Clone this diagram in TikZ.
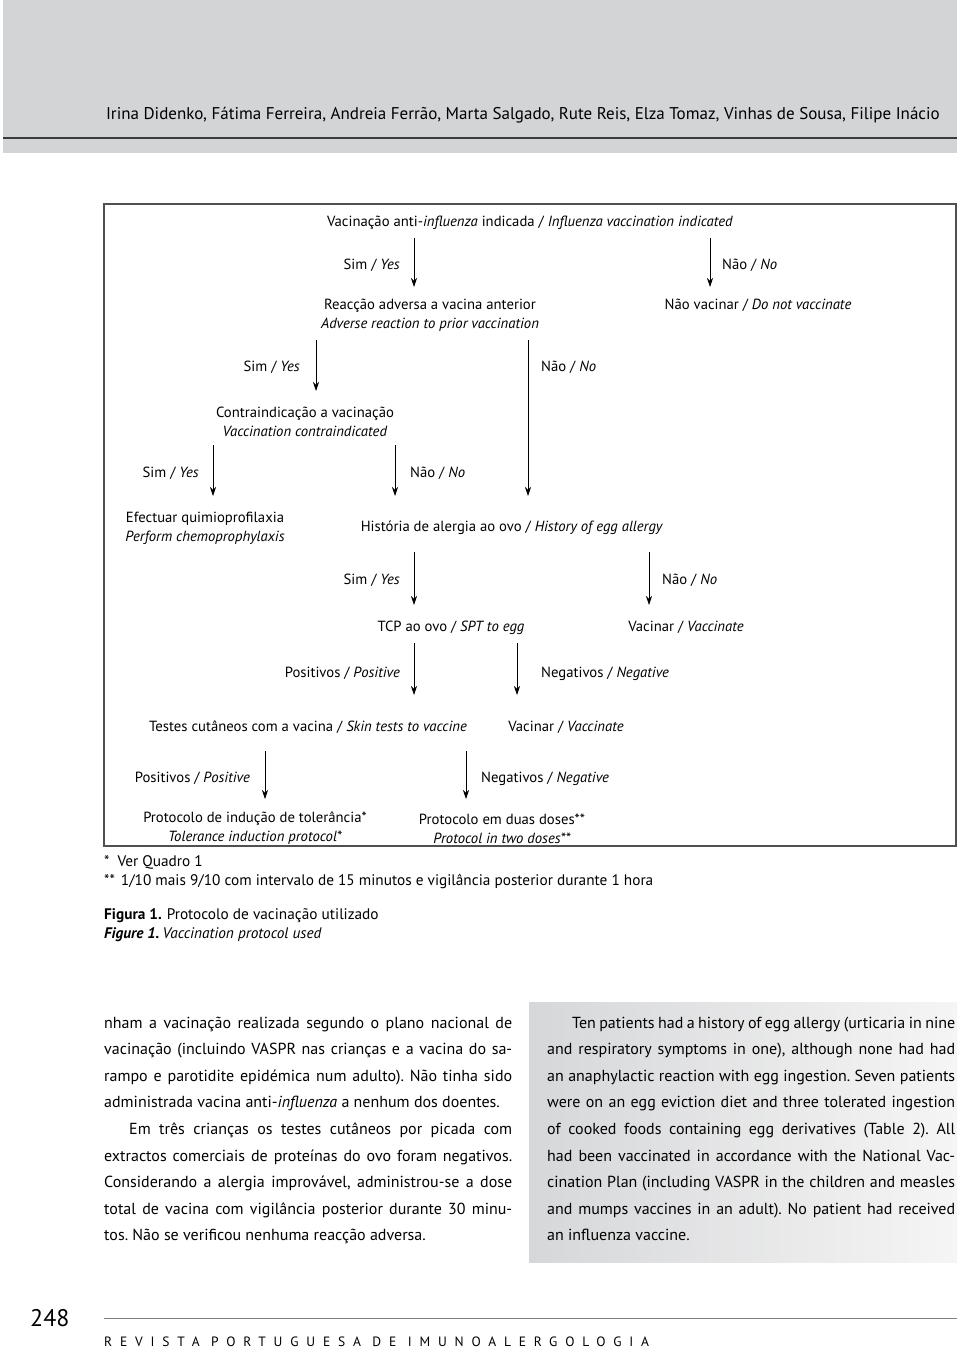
\documentclass[tikz,border=0pt]{standalone}
\usepackage{fontspec}
\setmainfont{PT Sans}
\usetikzlibrary{arrows.meta,positioning}
\frenchspacing

\definecolor{bandgray}{RGB}{211,212,214}
\definecolor{rulegray}{RGB}{60,60,60}
\definecolor{framegray}{RGB}{80,80,80}
\definecolor{shadeleft}{RGB}{214,215,217}
\definecolor{shaderight}{RGB}{245,245,245}

\newcommand{\jline}[1]{\hbox to 408pt{#1}}

\tikzset{
  flow/.style={font=\fontsize{14.7}{19}\selectfont, inner sep=0pt, align=center},
  lbl/.style={font=\fontsize{14.7}{16}\selectfont, inner sep=0pt},
  arr/.style={-{Stealth[length=9pt,width=6pt]}, line width=0.7pt},
  body/.style={font=\fontsize{16}{26.6}\selectfont, inner sep=0pt, align=left, anchor=north west},
  note/.style={font=\fontsize{15.3}{19}\selectfont, inner sep=0pt, anchor=base west},
}

\begin{document}
\begin{tikzpicture}[x=1pt,y=-1pt]
\useasboundingbox (0,0) rectangle (960,1349);

% Header band
\fill [bandgray] (3,0) rectangle (957,153);
\draw [rulegray, line width=1.5pt] (3,138) -- (957,138);
\node [anchor=base east, inner sep=0pt, font=\fontsize{17}{20}\selectfont] (authors) at (940,119)
  {Irina Didenko, Fátima Ferreira, Andreia Ferrão, Marta Salgado, Rute Reis, Elza Tomaz, Vinhas de Sousa, Filipe Inácio};

% Flowchart frame
\draw [framegray, line width=1.6pt] (104,204) rectangle (956,846);

% Boxes of text
\node [flow, anchor=base] (indic) at (530,226) {Vacinação anti-\textit{influenza} indicada / \textit{Influenza vaccination indicated}};
\node [flow] (react) at (430,315.5) {Reacção adversa a vacina anterior\\\textit{Adverse reaction to prior vaccination}};
\node [flow, anchor=base] (novac) at (758,309) {Não vacinar / \textit{Do not vaccinate}};
\node [flow] (contra) at (305,421.5) {Contraindicação a vacinação\\\textit{Vaccination contraindicated}};
\node [flow] (chemo) at (205,528.5) {Efectuar quimioprofilaxia\\\textit{Perform chemoprophylaxis}};
\node [flow, anchor=base] (hist) at (512,531) {História de alergia ao ovo / \textit{History of egg allergy}};
\node [flow, anchor=base] (tcp) at (451,631) {TCP ao ovo / \textit{SPT to egg}};
\node [flow, anchor=base] (vacA) at (686,631) {Vacinar / \textit{Vaccinate}};
\node [flow, anchor=base] (skin) at (308,731) {Testes cutâneos com a vacina / \textit{Skin tests to vaccine}};
\node [flow, anchor=base] (vacB) at (566,731) {Vacinar / \textit{Vaccinate}};
\node [flow] (toler) at (255,828.5) {Protocolo de indução de tolerância*\\\textit{Tolerance induction protocol*}};
\node [flow] (twodose) at (502,828.5) {Protocolo em duas doses**\\\textit{Protocol in two doses**}};

% Arrow ends
\coordinate (a1s) at (414,238); \coordinate (a1e) at (414,287);
\coordinate (a2s) at (710,238); \coordinate (a2e) at (710,287);
\coordinate (a3s) at (316,340); \coordinate (a3e) at (316,391);
\coordinate (a4s) at (528,340); \coordinate (a4e) at (528,496);
\coordinate (a5s) at (213,445); \coordinate (a5e) at (213,496);
\coordinate (a6s) at (395,445); \coordinate (a6e) at (395,496);
\coordinate (a7s) at (414,552); \coordinate (a7e) at (414,605);
\coordinate (a8s) at (649,552); \coordinate (a8e) at (649,605);
\coordinate (a9s) at (414,643); \coordinate (a9e) at (414,695);
\coordinate (a10s) at (517,643); \coordinate (a10e) at (517,695);
\coordinate (a11s) at (265,751); \coordinate (a11e) at (265,799);
\coordinate (a12s) at (466,751); \coordinate (a12e) at (466,799);

\draw [arr] (a1s) -- (a1e);
\draw [arr] (a2s) -- (a2e);
\draw [arr] (a3s) -- (a3e);
\draw [arr] (a4s) -- (a4e);
\draw [arr] (a5s) -- (a5e);
\draw [arr] (a6s) -- (a6e);
\draw [arr] (a7s) -- (a7e);
\draw [arr] (a8s) -- (a8e);
\draw [arr] (a9s) -- (a9e);
\draw [arr] (a10s) -- (a10e);
\draw [arr] (a11s) -- (a11e);
\draw [arr] (a12s) -- (a12e);

% Yes / No labels
\node [lbl, anchor=base east] (y1) at (400,269) {Sim / \textit{Yes}};
\node [lbl, anchor=base west] (n1) at (722,269) {Não / \textit{No}};
\node [lbl, anchor=base east] (y2) at (300,371) {Sim / \textit{Yes}};
\node [lbl, anchor=base west] (n2) at (541,371) {Não / \textit{No}};
\node [lbl, anchor=base east] (y3) at (199,477) {Sim / \textit{Yes}};
\node [lbl, anchor=base west] (n3) at (410,477) {Não / \textit{No}};
\node [lbl, anchor=base east] (y4) at (400,584) {Sim / \textit{Yes}};
\node [lbl, anchor=base west] (n4) at (662,584) {Não / \textit{No}};
\node [lbl, anchor=base east] (p5) at (400,677) {Positivos / \textit{Positive}};
\node [lbl, anchor=base west] (m5) at (541,677) {Negativos / \textit{Negative}};
\node [lbl, anchor=base east] (p6) at (250,782) {Positivos / \textit{Positive}};
\node [lbl, anchor=base west] (m6) at (481,782) {Negativos / \textit{Negative}};

% Footnotes and caption
\node [note] (fn1) at (104,866) {*\hspace{8pt}Ver Quadro 1};
\node [note] (fn2) at (104,885) {**\hspace{6pt}1/10 mais 9/10 com intervalo de 15 minutos e vigilância posterior durante 1 hora};
\node [note] (capPT) at (104,919) {\textbf{Figura 1.}\hspace{5pt}Protocolo de vacinação utilizado};
\node [note] (capEN) at (104,938) {\textbf{\textit{Figure 1.}}\hspace{3pt}\textit{Vaccination protocol used}};

% Text columns
\shade [left color=shadeleft, right color=shaderight] (529,1002) rectangle (957,1262);
\node [body] (colL) at (104,1016.5) {%
\jline{nham a vacinação realizada segundo o plano nacional de}\\
\jline{vacinação (incluindo VASPR nas crianças e a vacina do sa-}\\
\jline{rampo e parotidite epidémica num adulto). Não tinha sido}\\
administrada vacina anti-\textit{influenza} a nenhum dos doentes.\\
\jline{\hspace{25pt}Em três crianças os testes cutâneos por picada com}\\
\jline{extractos comerciais de proteínas do ovo foram negativos.}\\
\jline{Considerando a alergia improvável, administrou-se a dose}\\
\jline{total de vacina com vigilância posterior durante 30 minu-}\\
tos. Não se verificou nenhuma reacção adversa.};
\node [body] (colR) at (547,1016.5) {%
\jline{\hspace{25pt}Ten patients had a history of egg allergy (urticaria in nine}\\
\jline{and respiratory symptoms in one), although none had had}\\
\jline{an anaphylactic reaction with egg ingestion. Seven patients}\\
\jline{were on an egg eviction diet and three tolerated ingestion}\\
\jline{of cooked foods containing egg derivatives (Table 2). All}\\
\jline{had been vaccinated in accordance with the National Vac-}\\
\jline{cination Plan (including VASPR in the children and measles}\\
\jline{and mumps vaccines in an adult). No patient had received}\\
an influenza vaccine.};

% Footer
\node [anchor=base west, inner sep=0pt, font=\fontsize{24}{26}\selectfont] (page) at (30,1326) {248};
\draw [gray, line width=1pt] (104,1318) -- (957,1318);
\node [anchor=base west, inner sep=0pt, font=\fontsize{13.5}{15}\selectfont\addfontfeature{LetterSpace=58}] (journal) at (104,1346) {REVISTA PORTUGUESA DE IMUNOALERGOLOGIA};
\end{tikzpicture}
\end{document}
